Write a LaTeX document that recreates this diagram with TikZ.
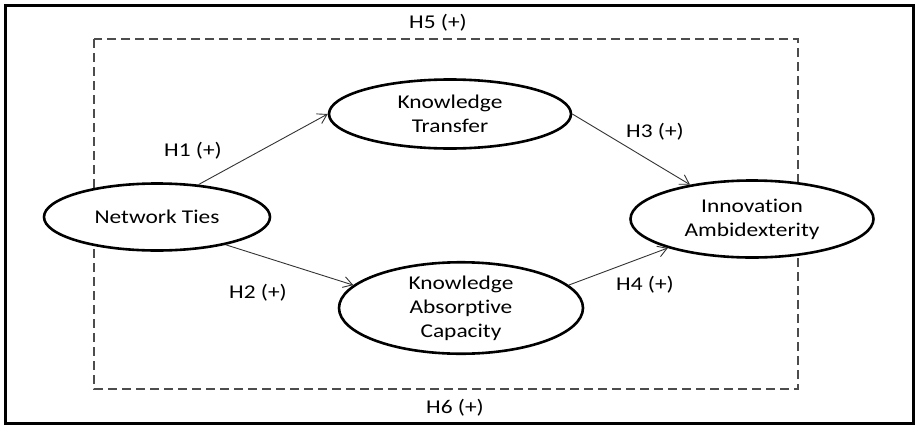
\documentclass[tikz,border=0pt]{standalone}
\usepackage{fontspec}
\setmainfont{Carlito}[FakeStretch=1.2, Ligatures=NoCommon]
\usetikzlibrary{shapes.geometric,arrows.meta}

\begin{document}
\begin{tikzpicture}[x=1pt, y=-1pt,
	every node/.style={font=\fontsize{19.5}{24}\selectfont, align=center},
	construct/.style={ellipse, draw, line width=2.6pt, fill=white, inner sep=0pt},
	hypline/.style={draw=black!80, line width=0.9pt, -{Straight Barb[length=9pt,width=11pt]}}]
\useasboundingbox (0,0) rectangle (918,426);
\draw[line width=3pt] (5,5) rectangle (913,423);
\draw[black!70, line width=1.4pt, dash pattern=on 9pt off 5pt] (94,39) rectangle (798,389);

% конструкты
\node[construct, minimum width=226, minimum height=67] (ties) at (157,217) {Network Ties};
\node[construct, minimum width=242, minimum height=69] (transfer) at (450,114) {Knowledge\\Transfer};
\node[construct, minimum width=244, minimum height=78] (absorb) at (461,308) {Knowledge\\Absorptive\\Capacity};
\node[construct, minimum width=243, minimum height=77] (ambi) at (752,219) {Innovation\\Ambidexterity};

\draw[hypline] (ties.38) -- (transfer.west);
\draw[hypline] (ties.-22) -- (absorb.168);
\draw[hypline] (transfer.east) -- (ambi.151);
\draw[hypline] (absorb.12) -- (ambi.199);

\foreach \n/\x/\y in {1/193/151, 2/258/293, 3/655/132, 4/645/285, 5/438/23, 6/455/408}
	\node (h\n) at (\x,\y) {H\n\ (+)};
\end{tikzpicture}
\end{document}
